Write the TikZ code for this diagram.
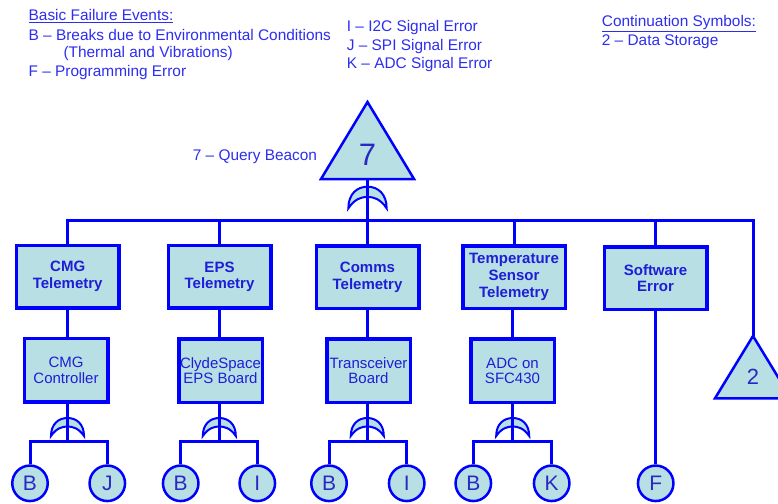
\documentclass[tikz,border=0pt]{standalone}
\usepackage{fontspec}
\setmainfont{Liberation Sans}
\definecolor{wireblue}{RGB}{0,0,255}
\definecolor{evfill}{RGB}{184,223,227}
\definecolor{hdrtext}{RGB}{45,45,240}
\definecolor{boxtext}{RGB}{30,30,215}
\definecolor{lettext}{RGB}{40,40,195}
\tikzset{
  hdr/.style={anchor=base west, inner sep=0pt, text=hdrtext, font=\fontsize{15.4}{18}\selectfont},
  wire/.style={draw=wireblue, line width=3pt},
  evbox/.style={draw=wireblue, line width=3.5pt, fill=evfill, inner sep=0pt, align=center,
    minimum width=102.5pt, minimum height=62.5pt, text=boxtext,
    font=\bfseries\fontsize{15}{16.7}\selectfont},
  subbox/.style={evbox, minimum width=83.5pt, minimum height=63.5pt,
    font=\fontsize{15}{15.5}\selectfont},
  basic/.style={circle, draw=wireblue, line width=2.5pt, fill=evfill, inner sep=0pt,
    minimum size=35.5pt, text=lettext, font=\fontsize{21}{21}\selectfont},
  tri/.style={draw=wireblue, line width=2.5pt, fill=evfill, line join=miter},
  orgate/.pic={
    \path[draw=wireblue, line width=2pt, fill=evfill]
      (-16.5,18) .. controls (-16.5,6) and (-9,0) .. (0,0)
      .. controls (9,0) and (16.5,6) .. (16.5,18)
      .. controls (11,10) and (5,8.5) .. (0,8.5)
      .. controls (-5,8.5) and (-11,10) .. (-16.5,18) -- cycle;
  }
}
\newcommand{\ulhdr}[1]{\underline{#1}}
\begin{document}
\begin{tikzpicture}[x=1pt, y=-1pt]
\useasboundingbox (0,0) rectangle (778,503);

% legend texts
\node[hdr] (lgA) at (28.5,20.7) {\ulhdr{Basic Failure Events:}};
\node[hdr] (lgB) at (28.5,40.2) {B – Breaks due to Environmental Conditions};
\node[hdr] (lgB2) at (63.3,58) {(Thermal and Vibrations)};
\node[hdr] (lgF) at (28.5,76.5) {F – Programming Error};
\node[hdr] (lgI) at (346.7,31.7) {I – I2C Signal Error};
\node[hdr] (lgJ) at (346.7,50) {J – SPI Signal Error};
\node[hdr] (lgK) at (346.7,68.5) {K – ADC Signal Error};
\node[hdr] (lgC) at (601.7,26.8) {\ulhdr{Continuation Symbols:}};
\node[hdr] (lg2) at (601.7,45.3) {2 – Data Storage};
\node[hdr] (lg7) at (192.7,160) {7 – Query Beacon};

% top event: transfer triangle 7
\coordinate (t7top) at (367.5,102);
\coordinate (t7l) at (321,179);
\coordinate (t7r) at (414,179);
\coordinate (t7base) at (367.5,179);
\path[tri] (t7top) -- (t7l) -- (t7r) -- cycle;
\node[inner sep=0pt, text=lettext, font=\fontsize{31}{31}\selectfont] (t7) at (367.5,155) {7};

% continuation triangle 2
\coordinate (t2top) at (753,336);
\path[tri] (t2top) -- (715,398.3) -- (791,398.3) -- cycle;
\node[inner sep=0pt, text=lettext, font=\fontsize{22}{22}\selectfont] (t2) at (753,377) {2};

% first level events
\node[evbox] (cmgT) at (67.7,276.5) {CMG\\Telemetry};
\node[evbox] (epsT) at (219.5,276.7) {EPS\\Telemetry};
\node[evbox] (comT) at (367.5,277) {Comms\\Telemetry};
\node[evbox] (tmpT) at (514,277) {Temperature\\Sensor\\Telemetry};
\node[evbox] (swE) at (655.5,278) {Software\\Error};

% second level events
\node[subbox] (cmgC) at (66,370.3) {CMG\\Controller};
\node[subbox] (epsB) at (220.5,370.7) {ClydeSpace\\EPS Board};
\node[subbox] (trxB) at (368.5,370.7) {Transceiver\\Board};
\node[subbox] (adcB) at (512.5,370.7) {ADC on\\SFC430};

% basic events
\node[basic] (b1) at (30,483.3) {B};
\node[basic] (j1) at (107.3,483.3) {J};
\node[basic] (b2) at (180.7,483.3) {B};
\node[basic] (i2) at (257.3,483.3) {I};
\node[basic] (b3) at (329,483.3) {B};
\node[basic] (i3) at (406.7,483.3) {I};
\node[basic] (b4) at (473.3,483.3) {B};
\node[basic] (k4) at (551.7,483.3) {K};
\node[basic] (f5) at (655.7,483.3) {F};

% OR gates
\pic[xscale=1.16, yscale=1.2] at (367.5,186.7) {orgate};
\pic at (67.5,418) {orgate};
\pic at (219.3,418) {orgate};
\pic at (367.3,418) {orgate};
\pic at (512.7,418) {orgate};

% connectors
\coordinate (busR) at (753,220);
\path[wire] (t7base) -- (comT.north);
\path[wire] (cmgT.north) |- (busR) -- (t2top);
\path[wire] (epsT.north) -- (epsT.north |- busR);
\path[wire] (tmpT.north) -- (tmpT.north |- busR);
\path[wire] (swE.north) -- (swE.north |- busR);

\path[wire] (cmgT.south) -- (cmgT.south |- cmgC.north);
\path[wire] (epsT.south) -- (epsT.south |- epsB.north);
\path[wire] (comT.south) -- (comT.south |- trxB.north);
\path[wire] (tmpT.south -| adcB) -- (adcB.north);
\path[wire] (swE.south -| f5) -- (f5.north);

\coordinate (bar1) at (67.5,441.7);
\coordinate (bar2) at (219.3,441.7);
\coordinate (bar3) at (367.3,441.7);
\coordinate (bar4) at (512.7,441.7);
\path[wire] (cmgC.south -| bar1) -- (bar1);
\path[wire] (epsB.south -| bar2) -- (bar2);
\path[wire] (trxB.south -| bar3) -- (bar3);
\path[wire] (adcB.south -| bar4) -- (bar4);
\path[wire] (b1.north) |- (bar1) -| (j1.north);
\path[wire] (b2.north) |- (bar2) -| (i2.north);
\path[wire] (b3.north) |- (bar3) -| (i3.north);
\path[wire] (b4.north) |- (bar4) -| (k4.north);
\end{tikzpicture}
\end{document}
